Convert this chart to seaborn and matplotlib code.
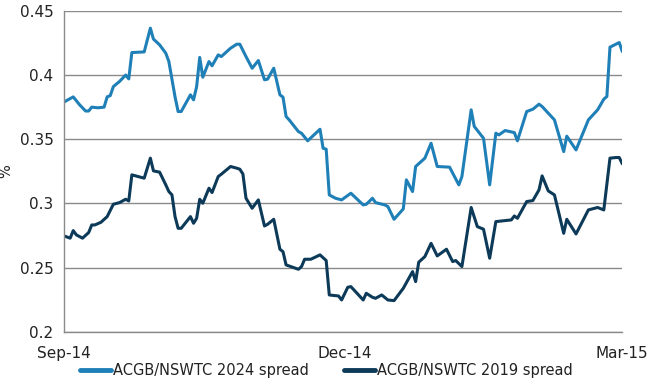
import matplotlib
matplotlib.use("Agg")
import matplotlib.pyplot as plt
import matplotlib.dates as mdates
import seaborn as sns
import pandas as pd

# days since 2014-09-01 and spread (%)
days_2024 = [0, 3, 5, 7, 8, 9, 11, 13, 14, 15, 16, 18, 20, 21, 22, 26, 28, 29, 31, 33,
             34, 36, 37, 38, 41, 42, 43, 44, 45, 47, 48, 50, 51, 54, 56, 57, 59, 61, 63, 65,
             66, 68, 70, 71, 72, 73, 76, 77, 79, 83, 84, 85, 86, 88, 90, 93, 97, 98, 100, 101,
             104, 105, 107, 110, 111, 113, 114, 117, 119, 121, 125, 128, 129, 132, 133, 136, 138, 140, 141, 143,
             146, 147, 150, 152, 154, 155, 157, 159, 162, 163, 166, 170, 173, 175, 176, 177, 180, 181]
spread_2024 = [0.379, 0.383, 0.377, 0.372, 0.372, 0.375, 0.3745, 0.375, 0.383, 0.384,
               0.391, 0.395, 0.400, 0.397, 0.4175, 0.418, 0.4365, 0.428, 0.4235, 0.417,
               0.4105, 0.383, 0.3716, 0.3716, 0.3846, 0.3807, 0.391, 0.4137, 0.3983, 0.4105,
               0.4072, 0.4157, 0.4144, 0.4209, 0.424, 0.424, 0.4144, 0.4053, 0.4113, 0.3963,
               0.3968, 0.4053, 0.3846, 0.3828, 0.3677, 0.3651, 0.356, 0.3547, 0.3488, 0.3578,
               0.343, 0.3423, 0.3067, 0.3041, 0.3028, 0.308, 0.2989, 0.2994, 0.3041, 0.3007,
               0.2989, 0.2976, 0.2877, 0.2958, 0.3184, 0.3093, 0.3288, 0.3353, 0.3469, 0.3288,
               0.3283, 0.3145, 0.321, 0.3729, 0.36, 0.3508, 0.3145, 0.3547, 0.3534, 0.3568,
               0.3552, 0.3488, 0.3716, 0.3734, 0.3773, 0.3755, 0.3703, 0.3651, 0.3404, 0.3524,
               0.3417, 0.3651, 0.3729, 0.3812, 0.3833, 0.4217, 0.4253, 0.4183]

days_2019 = [0, 2, 3, 4, 6, 8, 9, 10, 12, 14, 16, 18, 20, 21, 22, 26, 28, 29, 31, 33,
             34, 35, 36, 37, 38, 41, 42, 43, 44, 45, 47, 48, 50, 51, 54, 56, 57, 58, 59, 61,
             63, 65, 66, 68, 70, 71, 72, 76, 77, 78, 80, 83, 85, 86, 89, 90, 92, 93, 97, 98,
             100, 101, 103, 105, 107, 110, 113, 114, 115, 117, 119, 121, 124, 126, 127, 129, 132, 134, 136, 138,
             140, 143, 145, 146, 147, 150, 152, 154, 155, 157, 159, 162, 163, 166, 170, 173, 175, 177, 179, 180, 181]
spread_2019 = [0.2748, 0.273, 0.2789, 0.2756, 0.273, 0.2774, 0.2833, 0.2833, 0.2854, 0.2898,
               0.2994, 0.3007, 0.3033, 0.302, 0.3223, 0.3197, 0.3353, 0.3254, 0.3244, 0.3145,
               0.3093, 0.3067, 0.2898, 0.2807, 0.2807, 0.2898, 0.2846, 0.2885, 0.3033, 0.3002,
               0.3119, 0.3085, 0.321, 0.3228, 0.3288, 0.3275, 0.3267, 0.323, 0.3041, 0.2963,
               0.3028, 0.2825, 0.2838, 0.2877, 0.2644, 0.2625, 0.2522, 0.2488, 0.2509, 0.2566,
               0.2566, 0.26, 0.2556, 0.2288, 0.228, 0.2249, 0.2348, 0.2353, 0.2249, 0.2301,
               0.227, 0.2262, 0.2288, 0.2249, 0.2244, 0.234, 0.247, 0.2392, 0.2543, 0.2587,
               0.269, 0.2592, 0.2644, 0.2548, 0.2556, 0.2509, 0.2969, 0.282, 0.28, 0.2574,
               0.2859, 0.2867, 0.2872, 0.2903, 0.2885, 0.3015, 0.3023, 0.3106, 0.3215, 0.3098,
               0.3067, 0.2768, 0.2877, 0.2763, 0.295, 0.2969, 0.295, 0.3353, 0.3358, 0.3358, 0.3309]

series_names = ["ACGB/NSWTC 2024 spread", "ACGB/NSWTC 2019 spread"]
colors = ["#1f80b8", "#0c3a58"]
start = pd.Timestamp("2014-09-01")

df = pd.concat([
    pd.DataFrame({"date": start + pd.to_timedelta(days_2024, unit="D"),
                  "spread": spread_2024, "series": series_names[0]}),
    pd.DataFrame({"date": start + pd.to_timedelta(days_2019, unit="D"),
                  "spread": spread_2019, "series": series_names[1]}),
])

sns.set_style("white")
plt.rcParams["font.family"] = ["DejaVu Sans"]

fig = plt.figure(figsize=(6.53, 3.86), dpi=100)
ax = fig.add_axes([0.098, 0.140, 0.855, 0.832])

sns.lineplot(data=df, x="date", y="spread", hue="series", hue_order=series_names,
             palette=colors, linewidth=2.2, ax=ax)

ax.set_ylim(0.2, 0.45)
ax.set_yticks([0.2, 0.25, 0.3, 0.35, 0.4, 0.45])
ax.set_yticklabels(["0.2", "0.25", "0.3", "0.35", "0.4", "0.45"])
ax.set_xlim(start, pd.Timestamp("2015-03-01"))
ax.xaxis.set_major_locator(mdates.MonthLocator(bymonth=[3, 6, 9, 12]))
ax.xaxis.set_major_formatter(mdates.DateFormatter("%b-%y"))

ax.grid(axis="y", color="#8a8a8a", linewidth=1)
ax.set_axisbelow(True)
for side in ["top", "right"]:
    ax.spines[side].set_visible(False)
for side in ["left", "bottom"]:
    ax.spines[side].set_color("#8a8a8a")
    ax.spines[side].set_linewidth(1)
ax.tick_params(axis="both", which="major", direction="out", length=4, width=1,
               color="#8a8a8a", labelsize=11, labelcolor="#222222")
ax.tick_params(axis="x", pad=6)

ax.set_xlabel("")
ax.set_ylabel("%", fontsize=10.5, color="#222222")
ax.yaxis.set_label_coords(-0.09, 0.5)

handles, labels = ax.get_legend_handles_labels()
ax.get_legend().remove()
leg = fig.legend(handles, labels, loc="center", bbox_to_anchor=(0.5, 0.04), ncol=2,
                 frameon=False, fontsize=10.5, handlelength=2.1, handletextpad=0.15,
                 columnspacing=2.4, labelcolor="#222222")
for line in leg.get_lines():
    line.set_linewidth(3.5)

fig.savefig("out.png", dpi=100)
